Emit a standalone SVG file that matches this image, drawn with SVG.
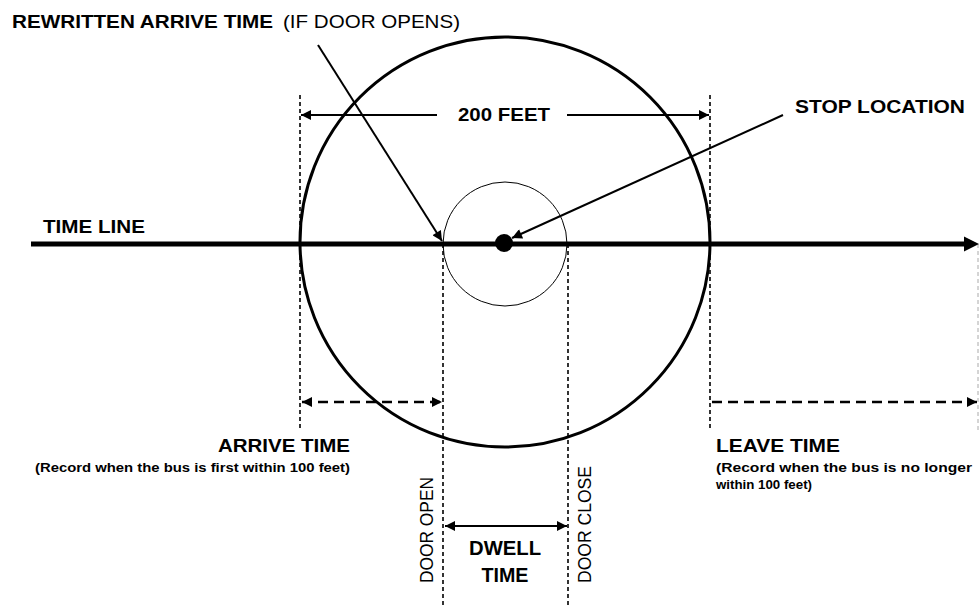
<svg xmlns="http://www.w3.org/2000/svg" width="979" height="608" viewBox="0 0 979 608">
<defs>
<style>
.t{font-family:"Liberation Sans",Arial,sans-serif;fill:#000}
.b{font-weight:bold}
.vd{stroke:#000;stroke-width:1.6;stroke-dasharray:4 3;fill:none}
.dim{stroke:#000;stroke-width:2;fill:none}
.dd{stroke:#000;stroke-width:2.6;stroke-dasharray:10 6;fill:none}
</style>
<marker id="ah" viewBox="0 0 10 10" refX="10" refY="5" markerWidth="12" markerHeight="10" markerUnits="userSpaceOnUse" orient="auto-start-reverse">
<path d="M0,0 L10,5 L0,10 z" fill="#000"/>
</marker>
</defs>
<rect width="979" height="608" fill="#fff"/>

<g id="circles">
<circle id="zone-200ft" cx="505" cy="242" r="205" fill="none" stroke="#000" stroke-width="3"/>
<circle id="stop-circle" cx="505" cy="244" r="62" fill="none" stroke="#000" stroke-width="1"/>
</g>

<g id="guides">
<line class="vd" x1="300" y1="95" x2="300" y2="430"/>
<line class="vd" x1="710" y1="95" x2="710" y2="430"/>
<line class="vd" x1="443" y1="244" x2="443" y2="608"/>
<line class="vd" x1="568" y1="244" x2="568" y2="608"/>
<line x1="978" y1="244" x2="978" y2="432" stroke="#aaa" stroke-width="1" stroke-dasharray="4 3"/>
</g>

<g id="connectors">
<line id="timeline" x1="31" y1="244" x2="967" y2="244" stroke="#000" stroke-width="5"/>
<path d="M964,236.5 L979,244 L964,251.5 z" fill="#000"/>
<line class="dim" x1="437" y1="115" x2="301" y2="115" marker-end="url(#ah)"/>
<line class="dim" x1="567" y1="115" x2="709" y2="115" marker-end="url(#ah)"/>
<line class="dim" x1="318" y1="45" x2="442" y2="241" marker-end="url(#ah)"/>
<line class="dim" x1="783" y1="115" x2="512" y2="238" marker-end="url(#ah)"/>
<line class="dd" x1="302" y1="402" x2="442" y2="402" marker-start="url(#ah)" marker-end="url(#ah)"/>
<line class="dd" x1="712" y1="402" x2="977" y2="402" marker-end="url(#ah)"/>
<line class="dim" x1="445" y1="526" x2="567" y2="526" marker-start="url(#ah)" marker-end="url(#ah)"/>
</g>

<g id="stop-location">
<circle cx="504" cy="243" r="9" fill="#000"/>
</g>

<g id="labels">
<text class="t b" x="12" y="28" font-size="19" textLength="261" lengthAdjust="spacingAndGlyphs">REWRITTEN ARRIVE TIME</text>
<text class="t" x="283" y="28" font-size="19" textLength="177" lengthAdjust="spacingAndGlyphs">(IF DOOR OPENS)</text>
<text class="t b" x="458" y="121" font-size="19" textLength="92" lengthAdjust="spacingAndGlyphs">200 FEET</text>
<text class="t b" x="795" y="113" font-size="19" textLength="170" lengthAdjust="spacingAndGlyphs">STOP LOCATION</text>
<text class="t b" x="43" y="233" font-size="19" textLength="102" lengthAdjust="spacingAndGlyphs">TIME LINE</text>
<text class="t b" x="218" y="452" font-size="19" textLength="132" lengthAdjust="spacingAndGlyphs">ARRIVE TIME</text>
<text class="t b" x="35" y="472" font-size="12.5" textLength="315" lengthAdjust="spacingAndGlyphs">(Record when the bus is first within 100 feet)</text>
<text class="t b" x="716" y="452" font-size="19" textLength="124" lengthAdjust="spacingAndGlyphs">LEAVE TIME</text>
<text class="t b" x="716" y="472" font-size="12.5" textLength="256" lengthAdjust="spacingAndGlyphs">(Record when the bus is no longer</text>
<text class="t b" x="716" y="489" font-size="12.5" textLength="96" lengthAdjust="spacingAndGlyphs">within 100 feet)</text>
<text class="t" x="0" y="0" font-size="17.5" transform="translate(433,583) rotate(-90)" textLength="106" lengthAdjust="spacingAndGlyphs">DOOR OPEN</text>
<text class="t" x="0" y="0" font-size="17.5" transform="translate(591,583) rotate(-90)" textLength="117" lengthAdjust="spacingAndGlyphs">DOOR CLOSE</text>
<text class="t b" x="505" y="555" font-size="20" text-anchor="middle" textLength="72" lengthAdjust="spacingAndGlyphs">DWELL</text>
<text class="t b" x="505" y="582" font-size="20" text-anchor="middle" textLength="47" lengthAdjust="spacingAndGlyphs">TIME</text>
</g>
</svg>
